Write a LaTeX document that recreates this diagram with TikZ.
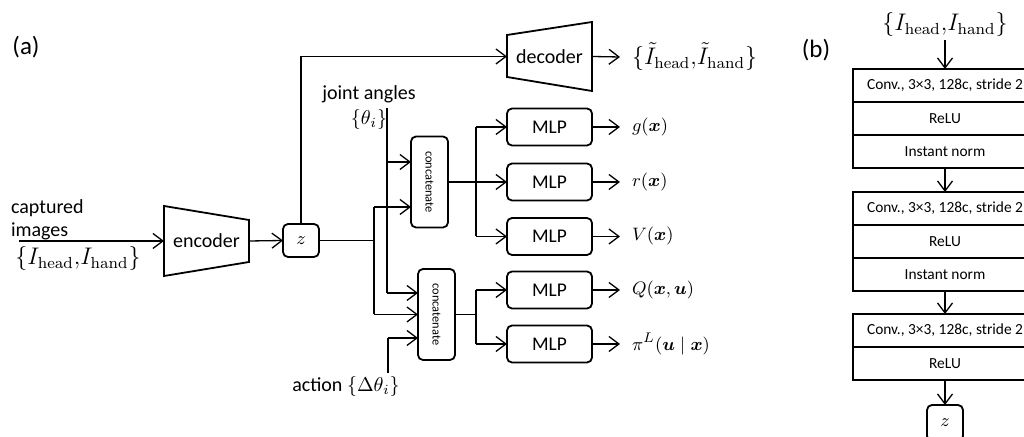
\documentclass[tikz,border=0pt]{standalone}
\usepackage{amsmath,amssymb,bm}
\usepackage{graphicx}
\usepackage[no-math]{fontspec}
\setmainfont{Carlito}
\usetikzlibrary{arrows.meta,positioning,calc}
\newcommand{\imgset}{\{I_{\mathrm{head}}{,}I_{\mathrm{hand}}\}}
\newcommand{\catlbl}{\rotatebox{-90}{concatenate}}

\begin{document}
\begin{tikzpicture}[
  x=0.5pt, y=-0.5pt,
  every node/.style={inner sep=0pt, outer sep=0pt},
  txt/.style={font=\fontsize{10}{12.5}\selectfont},
  box/.style={draw, rounded corners=2.5pt, line width=0.9pt, align=center},
  mlp/.style={box, minimum width=42.5pt, minimum height=18.5pt, font=\fontsize{9.7}{11}\selectfont},
  cat/.style={box, minimum width=18.5pt, minimum height=45.5pt, font=\fontsize{6.2}{7}\selectfont},
  layer/.style={draw, line width=0.6pt, minimum width=92pt, minimum height=16.5pt,
                font=\fontsize{7.7}{9}\selectfont},
  outlbl/.style={anchor=west, inner xsep=6pt, font=\fontsize{9.5}{11}\selectfont},
  tag/.style={font=\fontsize{12.5}{14}\selectfont},
  arr/.style={-{Straight Barb[length=5pt,width=7.5pt]}, line width=0.65pt},
  wire/.style={line width=0.65pt},
  trap/.style={line width=0.9pt, line join=miter}
]
\useasboundingbox (0,0) rectangle (1024,437);

% (a) encoder / latent / heads
\node[tag] (tagA) at (26,47) {(a)};
\node[txt, align=left, anchor=west, font=\fontsize{10}{11.5}\selectfont] (capt) at (11,220) {captured\\images};
\node[font=\fontsize{11.5}{13}\selectfont] (imgin) at (78,259) {$\imgset$};
\coordinate (src) at (19,241);

\node[txt, minimum width=42.5pt, minimum height=35pt] (enc) at (206.5,241) {encoder};
\draw[trap] (enc.north west) -- (enc.south west) -- ($(enc.south east)+(0,-14)$)
  -- ($(enc.north east)+(0,14)$) -- cycle;
\node[box, minimum width=18pt, minimum height=16.5pt, font=\fontsize{9.5}{11}\selectfont] (z) at (301,240.5) {$z$};

\node[txt, minimum width=42.5pt, minimum height=34.5pt] (dec) at (549.5,56.5) {decoder};
\draw[trap] (dec.north east) -- (dec.south east) -- ($(dec.south west)+(0,-14)$)
  -- ($(dec.north west)+(0,13)$) -- cycle;
\node[outlbl, font=\fontsize{12}{14}\selectfont] (iout) at (620,57)
  {$\{\tilde{I}_{\mathrm{head}}{,}\tilde{I}_{\mathrm{hand}}\}$};

\node[txt, align=center] (jlbl) at (369,108) {joint angles\\$\{\theta_i\}$};
\node[txt] (albl) at (346,387) {action $\{\Delta\theta_i\}$};

\node[cat] (cat1) at (429.5,182) {\catlbl};
\node[cat] (cat2) at (436.5,314.5) {\catlbl};

\node[mlp] (mlp1) at (549.5,127) {MLP};
\node[mlp] (mlp2) at (549.5,182) {MLP};
\node[mlp] (mlp3) at (549.5,236.5) {MLP};
\node[mlp] (mlp4) at (549.5,290) {MLP};
\node[mlp] (mlp5) at (549.5,344) {MLP};

\node[outlbl] (gx) at (620,127) {$g(\bm{x})$};
\node[outlbl] (rx) at (620,182) {$r(\bm{x})$};
\node[outlbl] (vx) at (620,236.5) {$V(\bm{x})$};
\node[outlbl] (qx) at (620,290) {$Q(\bm{x},\bm{u})$};
\node[outlbl] (px) at (620,344) {$\pi^L(\bm{u}\mid\bm{x})$};

% junctions
\coordinate (jtop) at (387,108);
\coordinate (j1) at (387,162);
\coordinate (j2) at (387,293);
\coordinate (k1) at (374,207);
\coordinate (k2) at (374,314.5);
\coordinate (abot) at (388,373);
\coordinate (a1) at (388,338);
\coordinate (bus) at (476,0);

\draw[arr] (src) -- (enc.west);
\draw[arr] (enc.east) -- (z.west);
\draw[arr] (z.north) |- (dec.west);
\draw[arr] (dec.east) -- (iout.west);

\draw[wire] (z.east) -- (z.east -| k1);
\draw[wire] (k1) -- (k2);
\draw[arr] (k1) -- (k1 -| cat1.west);
\draw[arr] (k2) -- (cat2.west);

\draw[wire] (jtop) -- (j2);
\draw[arr] (j1) -- (j1 -| cat1.west);
\draw[arr] (j2) -- (j2 -| cat2.west);

\draw[wire] (abot) -- (a1);
\draw[arr] (a1) -- (a1 -| cat2.west);

\draw[arr] (cat1.east) -- (mlp2.west);
\draw[wire] (mlp1.west -| bus) -- (mlp3.west -| bus);
\draw[arr] (mlp1.west -| bus) -- (mlp1.west);
\draw[arr] (mlp3.west -| bus) -- (mlp3.west);

\draw[wire] (cat2.east) -- (cat2.east -| bus);
\draw[wire] (mlp4.west -| bus) -- (mlp5.west -| bus);
\draw[arr] (mlp4.west -| bus) -- (mlp4.west);
\draw[arr] (mlp5.west -| bus) -- (mlp5.west);

\draw[arr] (mlp1.east) -- (gx.west);
\draw[arr] (mlp2.east) -- (rx.west);
\draw[arr] (mlp3.east) -- (vx.west);
\draw[arr] (mlp4.east) -- (qx.west);
\draw[arr] (mlp5.east) -- (px.west);

% (b) encoder layers
\node[tag] (tagB) at (816,50) {(b)};
\node[font=\fontsize{11.5}{13}\selectfont] (imgb) at (945,25) {$\imgset$};
\node[layer, anchor=north] (conv1) at (945,69) {Conv., 3×3, 128c, stride 2};
\node[layer, below=0pt of conv1] (relu1) {ReLU};
\node[layer, below=0pt of relu1] (norm1) {Instant norm};
\node[layer, below=12pt of norm1] (conv2) {Conv., 3×3, 128c, stride 2};
\node[layer, below=0pt of conv2] (relu2) {ReLU};
\node[layer, below=0pt of relu2] (norm2) {Instant norm};
\node[layer, below=11.5pt of norm2] (conv3) {Conv., 3×3, 128c, stride 2};
\node[layer, below=0pt of conv3] (relu3) {ReLU};
\node[box, minimum width=18pt, minimum height=18pt, font=\fontsize{9.5}{11}\selectfont,
      below=12.5pt of relu3] (zb) {$z$};

\draw[arr, shorten <=1.5pt] (imgb.south) -- (conv1.north);
\draw[arr] (norm1.south) -- (conv2.north);
\draw[arr] (norm2.south) -- (conv3.north);
\draw[arr] (relu3.south) -- (zb.north);
\end{tikzpicture}
\end{document}
